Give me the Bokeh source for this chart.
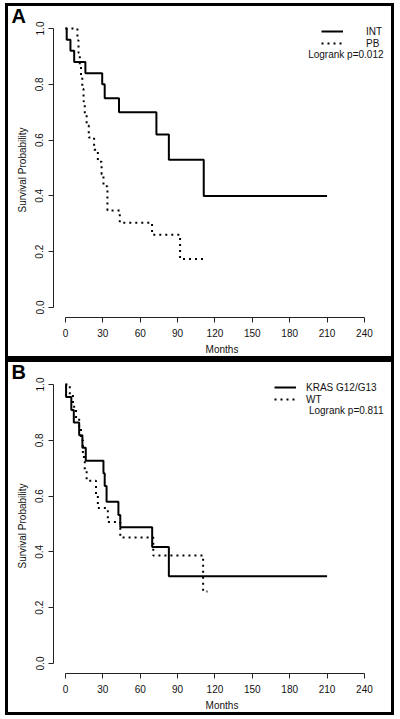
import numpy as np
from bokeh.plotting import figure
from bokeh.layouts import column
from bokeh.models import (Range1d, FixedTicker, PrintfTickFormatter, Legend, LegendItem,
                          Label)
from bokeh.embed import file_html
from bokeh.resources import INLINE

# ---------------- data ----------------
x_ticks = [0, 30, 60, 90, 120, 150, 180, 210, 240]
y_ticks = [0.0, 0.2, 0.4, 0.6, 0.8, 1.0]

# Panel A
a_int_t = [0, 1, 4, 7, 16, 29.5, 31.5, 43, 73, 83, 111]
a_int_s = [1.0, 0.96, 0.92, 0.88, 0.84, 0.80, 0.75, 0.70, 0.62, 0.53, 0.40]
a_int_end = 210
a_pb_t = [0, 9.6, 10.5, 11.5, 12.5, 13.5, 14.5, 15.5, 17, 18.7, 23, 26, 29, 30.5, 33.7, 43.6, 69.5, 92]
a_pb_s = [1.0, 0.957, 0.913, 0.870, 0.826, 0.783, 0.739, 0.696, 0.652, 0.609, 0.565, 0.522,
          0.478, 0.435, 0.348, 0.304, 0.261, 0.174]
a_pb_end = 111
a_names = ["INT", "PB"]
a_logrank = "Logrank p=0.012"

# Panel B
b_kras_t = [0, 0.5, 4.7, 6.7, 11, 13.6, 16.3, 30.5, 31.5, 33, 42.5, 44, 69.6, 83]
b_kras_s = [1.0, 0.955, 0.909, 0.864, 0.818, 0.773, 0.727, 0.682, 0.636, 0.580, 0.532,
            0.488, 0.418, 0.313]
b_kras_end = 210
b_wt_t = [0, 3.5, 6, 8.5, 11, 12.5, 14, 15.5, 17, 24.5, 26, 34, 44, 70.5, 110.5]
b_wt_s = [1.0, 0.964, 0.92, 0.88, 0.844, 0.80, 0.74, 0.69, 0.655, 0.605, 0.557, 0.507,
          0.452, 0.387, 0.258]
b_wt_end = 114
b_names = ["KRAS G12/G13", "WT"]
b_logrank = "Logrank p=0.811"

FONT = "Liberation Sans"
BW = 3                      # css border width (border-box: canvas clipped by 2*BW)
W, H = 383 + 2 * BW, 350 + 2 * BW
ML, MR, MT, MB = 45, 1 + 2 * BW, 16, 39 + 2 * BW
FW = W - ML - MR
FB = H - MB                 # frame bottom (canvas y)
PX_PER_MONTH = 1.2458
PX_PER_UNIT = 279.0
Y_TOP_PX, Y_ZERO_PX = 22, 301   # canvas y of survival 1.0 and 0.0
X0 = -9.6
X1 = X0 + FW / PX_PER_MONTH
Y0 = -(FB - Y_ZERO_PX) / PX_PER_UNIT
Y1 = 1.0 + (Y_TOP_PX - MT) / PX_PER_UNIT


def make_panel(tag, t1, s1, e1, t2, s2, e2, names, ptext, glyph_x, standoff, top_margin):
    p = figure(width=W, height=H, output_backend="svg", toolbar_location=None,
               x_range=Range1d(X0, X1), y_range=Range1d(Y0, Y1),
               min_border_left=ML, min_border_right=MR, min_border_top=MT,
               min_border_bottom=MB,
               styles={"border": "%dpx solid black" % BW},
               margin=(top_margin, 0, 0, 5))
    p.grid.visible = False
    p.outline_line_color = None
    p.background_fill_color = "white"
    p.border_fill_color = "white"

    p.title.text = tag
    p.title.align = "left"
    p.title.offset = 3 - ML
    p.title.standoff = -9
    p.title.text_font = FONT
    p.title.text_font_size = "20px"
    p.title.text_font_style = "bold"
    p.title.text_color = "black"

    r1 = p.step(list(t1) + [e1], list(s1) + [s1[-1]], mode="after",
                line_color="black", line_width=2)
    r2 = p.step(list(t2) + [e2], list(s2) + [s2[-1]], mode="after",
                line_color="black", line_width=2, line_dash="dotted")

    for ax in (p.xaxis[0], p.yaxis[0]):
        ax.major_tick_in = 0
        ax.major_tick_out = 5
        ax.minor_tick_in = 0
        ax.minor_tick_out = 0
        ax.axis_line_color = "#222222"
        ax.major_tick_line_color = "#222222"
        ax.major_label_text_font = FONT
        ax.major_label_text_font_size = "10px"
        ax.major_label_text_color = "#111111"
        ax.axis_label_text_font = FONT
        ax.axis_label_text_font_size = "10px"
        ax.axis_label_text_font_style = "normal"
        ax.axis_label_text_color = "#111111"
        ax.axis_label_standoff = 5

    xa = p.xaxis[0]
    xa.ticker = FixedTicker(ticks=x_ticks)
    xa.bounds = (x_ticks[0], x_ticks[-1])
    xa.axis_label = "Months"
    xa.major_label_standoff = 6
    xa.axis_label_standoff = 4

    ya = p.yaxis[0]
    ya.ticker = FixedTicker(ticks=y_ticks)
    ya.formatter = PrintfTickFormatter(format="%.1f")
    ya.bounds = (y_ticks[0], y_ticks[-1])
    ya.major_label_orientation = "vertical"
    ya.major_label_standoff = 5
    ya.axis_label = "Survival Probability"

    leg = Legend(items=[LegendItem(label=names[0], renderers=[r1]),
                        LegendItem(label=names[1], renderers=[r2])],
                 location=(glyph_x - ML, FB - 17 - 26), padding=0, spacing=0, margin=0,
                 glyph_width=22, glyph_height=12, label_height=12, label_standoff=standoff,
                 label_text_font=FONT, label_text_font_size="10px",
                 label_text_color="#111111",
                 background_fill_alpha=0, border_line_alpha=0)
    p.add_layout(leg)

    p.add_layout(Label(x=375 - ML, y=FB - 48, x_units="screen", y_units="screen",
                       text=ptext, text_align="right", text_baseline="middle",
                       text_font=FONT, text_font_size="10px", text_color="#111111"))
    return p


pA = make_panel("A", a_int_t, a_int_s, a_int_end, a_pb_t, a_pb_s, a_pb_end,
                a_names, a_logrank, 313, 23, 3)
pB = make_panel("B", b_kras_t, b_kras_s, b_kras_end, b_wt_t, b_wt_s, b_wt_end,
                b_names, b_logrank, 266, 10, 0)

layout = column(pA, pB, spacing=0)
open("out.html", "w").write(file_html(layout, INLINE))
